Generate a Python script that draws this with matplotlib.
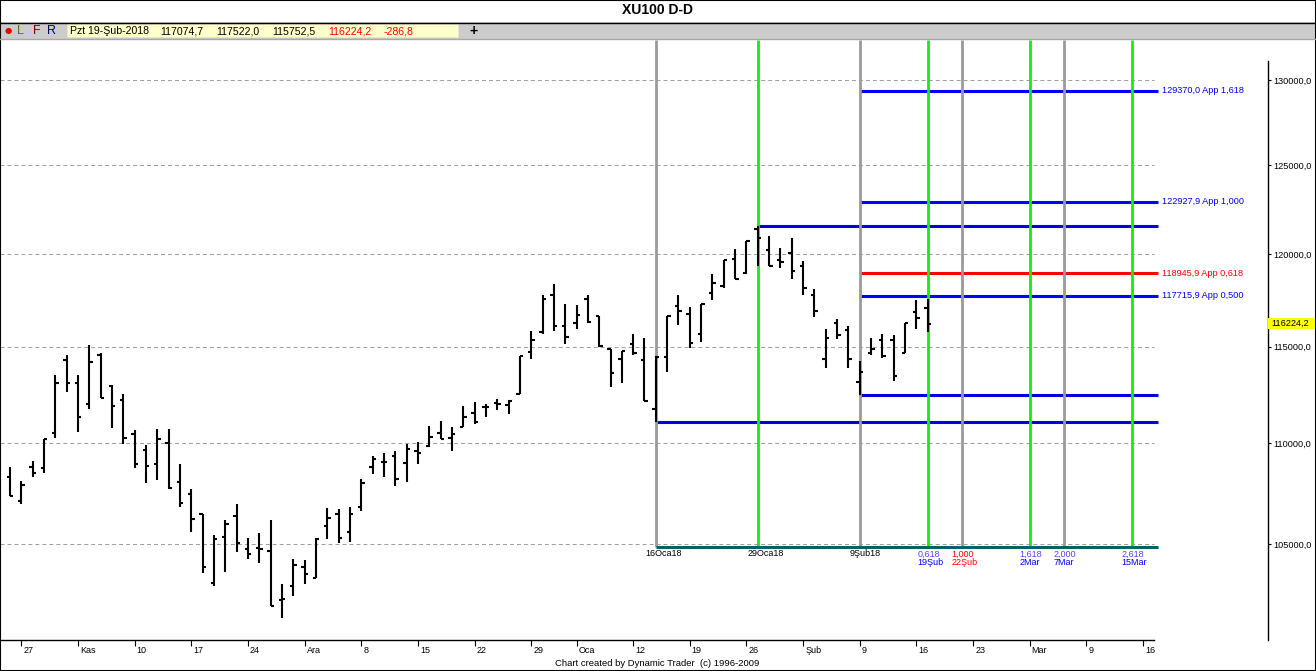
import matplotlib
matplotlib.use('Agg')
import matplotlib.pyplot as plt
import matplotlib.transforms as mtransforms
from matplotlib.lines import Line2D
from matplotlib.patches import Rectangle
from matplotlib.ticker import FixedLocator, NullLocator, FuncFormatter

plt.rcParams['font.family'] = ['Liberation Sans', 'DejaVu Sans']

# XU100 daily OHLC, 26 Eki 2017 .. 19 Şub 2018 (one entry per trading day)
opens = [108310, 107110, 108810, 108760, 110530, 114280, 113100, 111980, 114550, 112940,
         112200, 110460, 109650, 108950, 110020, 108060, 107450, 106470, 103160, 105370,
         106390, 104760, 104830, 104690, 102340, 103020, 103920, 103400, 105880, 106460,
         105610, 106830, 108810, 109060, 109350, 109010, 109600, 109840, 110530, 110240,
         110830, 111520, 111830, 112060, 111940, 112510, 114720, 115760, 117790, 116080,
         116230, 117530, 116630, 114850, 114320, 115130, 114280, 111770, 114460, 117170,
         116730, 115690, 117870, 118240, 119750, 118960, 121380, 120250, 119700, 120060,
         119330, 117790, 114320, 116260, 115870, 113150, 114670, 115340, 115340, 114670,
         116850, 117074.7]
highs = [108810, 108080, 109080, 110190, 113500, 114550, 113500, 115110, 114640, 113010,
         112500, 110660, 109890, 110700, 110700, 108930, 107700, 106470, 105450, 106180,
         106960, 105290, 105530, 106180, 103100, 104290, 104240, 105290, 106750, 106700,
         106800, 108180, 109350, 109480, 109600, 109950, 110040, 110870, 111140, 110800,
         111890, 112110, 111980, 112250, 112200, 114510, 115830, 117750, 118380, 117260,
         117210, 117790, 116630, 114850, 114770, 115690, 115430, 114480, 116630, 117750,
         117090, 117260, 118930, 119700, 120300, 120730, 121540, 120990, 120360, 120920,
         119610, 118110, 115910, 116490, 116080, 114230, 115430, 115660, 115600, 116280,
         117510, 117522.0]
lows = [107370, 106950, 108280, 108480, 110240, 112600, 110550, 111770, 112290, 110750,
        109940, 108730, 107980, 108150, 107700, 106800, 105610, 103600, 103000, 103650,
        104640, 104280, 104080, 102060, 101490, 102550, 103080, 103370, 105240, 105080,
        105120, 106620, 108430, 108280, 107850, 108030, 108930, 109800, 110190, 109630,
        110820, 111000, 111340, 111690, 111470, 112510, 114370, 115660, 115820, 115160,
        115960, 116260, 114980, 112860, 113070, 114580, 112150, 111100, 113670, 116170,
        114900, 115250, 117510, 118170, 118620, 118890, 119350, 119330, 119260, 118660,
        117790, 116580, 113850, 115380, 113880, 112490, 114580, 114400, 113200, 114670,
        115960, 115752.5]
closes = [107370, 107920, 108510, 110190, 113070, 113070, 111340, 114190, 112320, 111910,
          110270, 108950, 108860, 110190, 107770, 107020, 106230, 103910, 105250, 106000,
          105050, 104540, 104790, 102070, 102370, 104000, 103590, 105240, 106280, 105320,
          106470, 107980, 109180, 109060, 108180, 109700, 109530, 110290, 110210, 110460,
          111310, 111090, 111830, 111990, 112160, 114510, 115340, 117530, 116080, 115510,
          116710, 116310, 115020, 113620, 114770, 114670, 112170, 114460, 116630, 116890,
          115200, 117260, 118420, 119700, 118660, 120730, 120890, 119330, 119570, 119070,
          118170, 116900, 115460, 115640, 114320, 113640, 114850, 114490, 113460, 116260,
          116511.0, 116224.2]

# weekly labels (trading-day index of each Friday)
tick_days = [1, 6, 11, 16, 21, 26, 31, 36, 41, 46, 50, 55, 60, 65, 70, 75, 80, 85, 90, 95, 100]
tick_labels = ['27', 'Kas', '10', '17', '24', 'Ara', '8', '15', '22', '29', 'Oca',
               '12', '19', '26', 'Şub', '9', '16', '23', 'Mar', '9', '16']
price_ticks = [105000, 110000, 115000, 120000, 125000, 130000]

# price projections from the 9 Şub low
app_levels = [129370.0, 122927.9, 118945.9, 117715.9]
app_labels = ['129370,0 App 1,618', '122927,9 App 1,000',
              '118945,9 App 0,618', '117715,9 App 0,500']
app_colors = ['#0000ff', '#0000ff', '#ff0000', '#0000ff']

# time pivots / time projections (trading-day index)
pivot_days = [57, 66, 75]
pivot_labels = ['16Oca18', '29Oca18', '9Şub18']
gray_days = [57, 75, 84, 93]
green_days = [66, 81, 90, 99]
proj_days = [81, 84, 90, 93, 99]
proj_ratios = ['0,618', '1,000', '1,618', '2,000', '2,618']
proj_dates = ['19Şub', '22Şub', '2Mar', '7Mar', '15Mar']
proj_red = [False, True, False, False, False]
base_level = 104870

W, H = 1316, 671


def fx(px):
    return px / W


def fy(py):
    return 1 - py / H


def tr(v):
    return f'{v:.1f}'.replace('.', ',')


fig = plt.figure(figsize=(W / 100, H / 100), dpi=100)
fig.patch.set_facecolor('white')

# chart area
ax = fig.add_axes([0, fy(640), fx(1268), fy(39.5) - fy(640)])
ax.set_yscale('log')
x_left, x_right = -0.883, 111.03
x_end = 101.3
ax.set_xlim(x_left, x_right)
ax.set_ylim(100476, 132456)

ax.hlines(price_ticks, x_left, 101.0, colors='#a0a0a0', linestyles=(0, (3.8, 2.9)),
          lw=0.75, zorder=0)

# price projection lines
for lvl, lab, col in zip(app_levels, app_labels, app_colors):
    ax.hlines(lvl, pivot_days[2], x_end, colors=col, lw=2.2, zorder=2)
    ax.text(x_end + 0.4, lvl, lab, color=col, fontsize=6.6, va='center', ha='left')
ax.hlines(highs[66], pivot_days[1], x_end, colors='#0000e0', lw=2.2, zorder=2)
ax.hlines(lows[75], pivot_days[2], x_end, colors='#0000e0', lw=2.2, zorder=2)
ax.hlines(lows[57], pivot_days[0], x_end, colors='#0000e0', lw=2.2, zorder=2)

# time lines
ax.vlines(gray_days, base_level, 132456, colors='#9a9a9a', lw=2.0, zorder=3)
ax.vlines(green_days, base_level, 132456, colors='#12ee12', lw=2.0, zorder=3)
ax.hlines(base_level, pivot_days[0], x_end, colors='#006466', lw=2.2, zorder=4)

for d, lab in zip(pivot_days, pivot_labels):
    ax.annotate(lab, xy=(d, base_level), xytext=(-10, -7), textcoords='offset pixels',
                ha='left', va='center', fontsize=6.5, color='black')
for d, r, dt, red in zip(proj_days, proj_ratios, proj_dates, proj_red):
    ax.annotate(r, xy=(d, base_level), xytext=(-10, -7), textcoords='offset pixels',
                ha='left', va='center', fontsize=6.5, color='#ff0000' if red else '#5a3cff')
    ax.annotate(dt, xy=(d, base_level), xytext=(-10, -16), textcoords='offset pixels',
                ha='left', va='center', fontsize=6.5, color='#ff0000' if red else '#0000ff')

# OHLC bars
days = list(range(len(opens)))
ax.vlines(days, lows, highs, colors='black', lw=1.5, zorder=5)
ax.hlines(opens, [d - 0.3 for d in days], days, colors='black', lw=1.5, zorder=5)
ax.hlines(closes, days, [d + 0.3 for d in days], colors='black', lw=1.5, zorder=5)

# axes styling
for s in ['top', 'left']:
    ax.spines[s].set_visible(False)
ax.spines['bottom'].set_bounds(x_left, 101.0)
ax.spines['right'].set_bounds(100476, 131122)
for s in ['bottom', 'right']:
    ax.spines[s].set_linewidth(1.0)

ax.yaxis.tick_right()
ax.yaxis.set_major_locator(FixedLocator(price_ticks))
ax.yaxis.set_minor_locator(NullLocator())
ax.yaxis.set_major_formatter(FuncFormatter(lambda v, p: tr(v)))
ax.tick_params(axis='y', direction='out', length=2.5, width=0.8, labelsize=6.6, pad=1)

ax.xaxis.set_major_locator(FixedLocator(tick_days))
ax.xaxis.set_minor_locator(NullLocator())
ax.set_xticklabels(tick_labels)
ax.tick_params(axis='x', direction='out', length=4.3, width=0.8, labelsize=6.5, pad=0)
shift = mtransforms.ScaledTranslation(2 / 100, 0, fig.dpi_scale_trans)
for lab in ax.get_xticklabels():
    lab.set_horizontalalignment('left')
    lab.set_transform(lab.get_transform() + shift)

# last price marker on the price axis
fig.canvas.draw()
y_last = ax.transData.transform((0, closes[-1]))[1] / fig.bbox.height
fig.add_artist(Rectangle((fx(1268), y_last - 5.5 / H), fx(47), 11 / H,
                         transform=fig.transFigure, fc='#ffff00', ec='none', zorder=5))
fig.text(fx(1271.5), y_last, tr(closes[-1]), fontsize=6.6, va='center', ha='left', zorder=6)

# title and toolbar
fig.text(0.5, fy(10.5), 'XU100 D-D', fontsize=10, fontweight='bold', ha='center', va='center')
fig.add_artist(Rectangle((0, fy(39)), 1, 16.5 / H, transform=fig.transFigure,
                         fc='#cccccc', ec='none'))
fig.add_artist(Line2D([0, 1], [fy(22.5), fy(22.5)], color='black', lw=1.0))
fig.add_artist(Line2D([0, 1], [fy(39), fy(39)], color='#a8a8a8', lw=1.0))
fig.add_artist(Rectangle((fx(67), fy(37)), fx(391), 13 / H, transform=fig.transFigure,
                         fc='#ffffcc', ec='#e8e8c0', lw=0.5))
fig.text(fx(5), fy(31), '●', fontsize=6, color='#ee0000', va='center', ha='left',
         family='DejaVu Sans')
fig.text(fx(17.5), fy(31), 'L', fontsize=9, color='#6b6b00', va='center', ha='left')
fig.text(fx(33.5), fy(31), 'F', fontsize=9, color='#800000', va='center', ha='left')
fig.text(fx(46.5), fy(31), 'R', fontsize=9, color='#000080', va='center', ha='left')
fig.text(fx(69.5), fy(31), 'Pzt 19-Şub-2018', fontsize=7.6, va='center', ha='left')
for px, val, col in [(160.5, opens[-1], 'black'), (216.5, highs[-1], 'black'),
                     (272.5, lows[-1], 'black'), (328.5, closes[-1], '#ff0000')]:
    fig.text(fx(px), fy(31), tr(val), fontsize=7.6, color=col, va='center', ha='left')
fig.text(fx(384), fy(31), tr(closes[-1] - closes[-2]), fontsize=7.6,
         color='#ff0000', va='center', ha='left')
fig.text(fx(473.5), fy(31), '+', fontsize=10, fontweight='bold', va='center', ha='center')

fig.text(fx(657), fy(663), 'Chart created by Dynamic Trader  (c) 1996-2009', fontsize=6.8,
         ha='center', va='center')
fig.add_artist(Rectangle((0, 0), 1, 1, transform=fig.transFigure, fill=False,
                         ec='black', lw=1.5))

fig.savefig('out.png', dpi=100)
